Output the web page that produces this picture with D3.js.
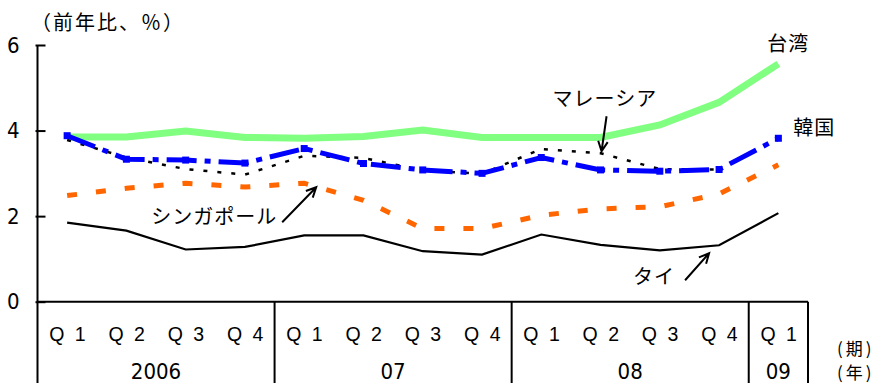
<!DOCTYPE html>
<html>
<head>
<meta charset="utf-8">
<script src="https://cdn.jsdelivr.net/npm/d3@7"></script>
<style>
  html, body { margin: 0; padding: 0; background: #fff; }
  svg { display: block; }
  .num { font-family: "Liberation Sans Narrow", "Arial Narrow", "DejaVu Sans Condensed", sans-serif; }
  .jp { font-family: "Noto Sans CJK JP", sans-serif; }
  .q { font-family: "Liberation Sans", Arial, sans-serif; }
</style>
</head>
<body>
<svg id="chart" width="884" height="383"></svg>
<script>
// Quarterly periods and the year each group of quarters belongs to
const quarters = ["Q 1","Q 2","Q 3","Q 4","Q 1","Q 2","Q 3","Q 4","Q 1","Q 2","Q 3","Q 4","Q 1"];
const yearLabels = ["2006","07","08","09"];
const yearQuarterCounts = [4, 4, 4, 1];
const yTicks = [0, 2, 4, 6];

// Series (前年比, %)
const taiwan   = [3.85,3.85,3.99,3.84,3.82,3.86,4.01,3.84,3.84,3.84,4.13,4.66,5.56];
const korea    = [3.88,3.33,3.31,3.24,3.58,3.23,3.08,3.00,3.37,3.08,3.05,3.09,3.82];
const malaysia = [3.78,3.37,3.10,2.97,3.41,3.36,3.07,2.99,3.57,3.47,3.10,3.09,null];
const singapore= [2.48,2.65,2.77,2.68,2.77,2.37,1.71,1.71,2.02,2.17,2.22,2.52,3.20];
const thailand = [1.85,1.66,1.22,1.28,1.55,1.55,1.18,1.10,1.57,1.33,1.20,1.32,2.07];

const svg = d3.select("#chart");

const x = d3.scaleBand().domain(d3.range(quarters.length)).range([37.5, 808]);
const cx = i => x(i) + x.bandwidth() / 2;
const y = d3.scaleLinear().domain([0, 6]).range([301.7, 45]);

// Unit label
svg.append("text").attr("class", "jp")
  .attr("x", 31).attr("y", 21)
  .attr("dominant-baseline", "central")
  .attr("font-size", 20).attr("letter-spacing", 2)
  .text("（前年比、％）");

// Y axis
const yAxis = svg.append("g")
  .attr("transform", "translate(37.5,0)")
  .call(d3.axisLeft(y).tickValues(yTicks).tickFormat(d3.format("d"))
    .tickSizeInner(-8).tickSizeOuter(0).tickPadding(18));
yAxis.select(".domain").remove();
yAxis.selectAll(".tick line").attr("x1", -2).attr("stroke", "#000").attr("stroke-width", 2);
yAxis.selectAll(".tick text").attr("class", "num").attr("font-size", 22).attr("fill", "#000");

svg.append("line")
  .attr("x1", 37.5).attr("x2", 37.5).attr("y1", y(6)).attr("y2", 383)
  .attr("stroke", "#000").attr("stroke-width", 2);

// Baseline
svg.append("line")
  .attr("x1", 37.5).attr("x2", 808).attr("y1", y(0)).attr("y2", y(0))
  .attr("stroke", "#000").attr("stroke-width", 2);

// Year separators and labels
let start = 0;
const bounds = [];
yearLabels.forEach((lab, k) => {
  const end = start + yearQuarterCounts[k];
  const x0 = x(start), x1 = end < quarters.length ? x(end) : x.range()[1];
  bounds.push(x1);
  svg.append("text").attr("class", "num")
    .attr("x", (x0 + x1) / 2).attr("y", 371)
    .attr("text-anchor", "middle").attr("dominant-baseline", "central")
    .attr("font-size", 22).text(lab);
  start = end;
});
bounds.forEach(bx => {
  svg.append("line")
    .attr("x1", bx).attr("x2", bx).attr("y1", y(0)).attr("y2", 383)
    .attr("stroke", "#000").attr("stroke-width", 2);
});

// Quarter labels
svg.selectAll("text.qlab").data(quarters).enter().append("text")
  .attr("class", "q qlab")
  .attr("x", (d, i) => cx(i) + 1.5).attr("y", 334)
  .attr("text-anchor", "middle").attr("dominant-baseline", "central")
  .attr("font-size", 19.5).attr("letter-spacing", 2.5)
  .text(d => d);

svg.append("text").attr("class", "jp")
  .attr("x", 837).attr("y", 347)
  .attr("dominant-baseline", "central").attr("font-size", 17).attr("letter-spacing", 3)
  .text("(期)");
svg.append("text").attr("class", "jp")
  .attr("x", 837).attr("y", 371)
  .attr("dominant-baseline", "central").attr("font-size", 17).attr("letter-spacing", 3)
  .text("(年)");

// Lines
const line = d3.line()
  .defined(d => d != null)
  .x((d, i) => cx(i)).y(d => y(d));

function drawSeries(values, color, width, dash) {
  svg.append("path")
    .datum(values)
    .attr("d", line)
    .attr("fill", "none")
    .attr("stroke", color)
    .attr("stroke-width", width)
    .attr("stroke-linejoin", "miter")
    .attr("stroke-dasharray", dash || null);
}

drawSeries(taiwan, "#80ff80", 7, null);
drawSeries(thailand, "#000", 2.2, null);
drawSeries(singapore, "#ff6600", 5, "10,19");
drawSeries(malaysia, "#000", 2.5, "4,10");
drawSeries(korea, "#0000ff", 5, "30,8,6,8");

// Korea point markers
svg.selectAll("rect.kmark").data(korea).enter().append("rect")
  .attr("class", "kmark")
  .attr("x", (d, i) => cx(i) - 3.5).attr("y", d => y(d) - 3.5)
  .attr("width", 7).attr("height", 7)
  .attr("fill", "#0000ff");

// Series labels and pointer arrows
function label(text, lx, ly) {
  svg.append("text").attr("class", "jp")
    .attr("x", lx).attr("y", ly)
    .attr("dominant-baseline", "central")
    .attr("font-size", 20).attr("letter-spacing", 1)
    .text(text);
}
function arrow(x0, y0, x1, y1) {
  const a = Math.atan2(y1 - y0, x1 - x0), h = 11, s = 0.45;
  svg.append("path")
    .attr("d", `M${x0},${y0}L${x1},${y1}` +
      `M${x1 - h * Math.cos(a - s)},${y1 - h * Math.sin(a - s)}L${x1},${y1}` +
      `L${x1 - h * Math.cos(a + s)},${y1 - h * Math.sin(a + s)}`)
    .attr("fill", "none").attr("stroke", "#000").attr("stroke-width", 2);
}

const last = quarters.length - 1;
label("台湾", cx(last) - 11, y(taiwan[last]) - 21);
label("韓国", cx(last) + 15, y(korea[last]) - 12);

label("マレーシア", cx(9) - 48, y(malaysia[9]) - 56);
arrow(cx(9) + 6, y(malaysia[9]) - 37, cx(9) + 1, y(malaysia[9]) - 2);

label("シンガポール", cx(4) - 153, y(singapore[4]) + 32);
arrow(cx(4) - 22, y(singapore[4]) + 39, cx(4) + 12, y(singapore[4]) + 4);

label("タイ", cx(11) - 86, y(thailand[11]) + 30);
arrow(cx(11) - 34, y(thailand[11]) + 35, cx(11) - 10, y(thailand[11]) + 8);
</script>
</body>
</html>
